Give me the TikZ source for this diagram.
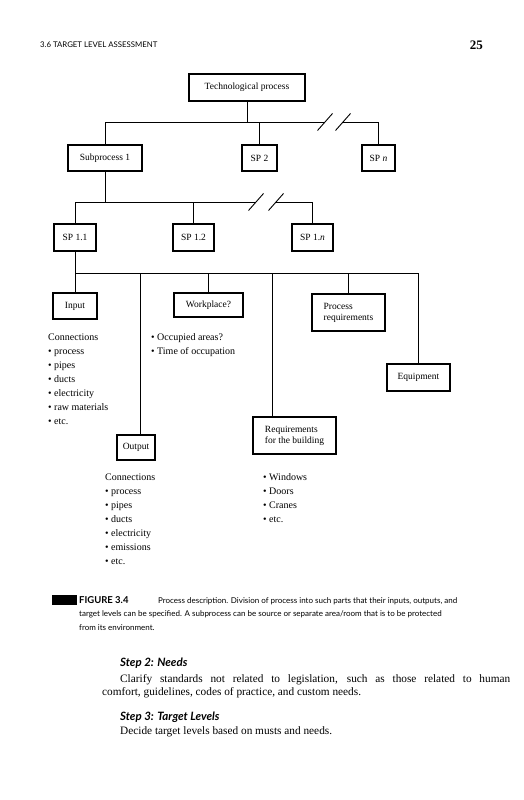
\documentclass[tikz,border=0pt]{standalone}
\usepackage{fontspec}
\setmainfont{Liberation Serif}
\setsansfont{Lato}
\usetikzlibrary{calc}

\begin{document}
\begin{tikzpicture}[
    x=1pt, y=-1pt,
    box/.style 2 args={draw, line width=1.1pt, inner sep=0pt, align=left,
                minimum width=#1pt, minimum height=#2pt,
                font=\fontsize{9.5}{11}\selectfont},
    wire/.style={line width=0.9pt},
    lst/.style={anchor=base west, align=left, inner sep=0pt,
                font=\fontsize{10}{14}\selectfont},
    txt/.style={anchor=base west, inner sep=0pt,
                font=\fontsize{11.3}{13.5}\selectfont},
    hd/.style={anchor=base west, inner sep=0pt,
                font=\sffamily\bfseries\itshape\fontsize{11.5}{13}\selectfont},
    captxt/.style={anchor=base west, inner sep=0pt,
                font=\sffamily\fontsize{8}{9}\selectfont}
  ]
  \useasboundingbox (0,0) rectangle (523,800);

  % Running head
  \node[anchor=base west, inner sep=0pt, font=\sffamily\fontsize{7.8}{9}\selectfont]
    (runhead) at (40,48) {3.6 TARGET LEVEL ASSESSMENT};
  \node[anchor=base east, inner sep=0pt, font=\bfseries\fontsize{13}{15}\selectfont]
    (folio) at (483,49) {25};

  % Process tree
  \node[box={116}{27}] (tp) at (247,87.5) {Technological process};
  \node[box={74}{26}] (sub1) at (105,158) {Subprocess 1};
  \node[box={35}{26}] (sp2) at (259.5,158) {SP 2};
  \node[box={33}{26}] (spn) at (378.5,158) {SP \textit{n}};
  \node[box={42}{27}] (sp11) at (75,237.5) {SP 1.1};
  \node[box={41}{27}] (sp12) at (193.5,237.5) {SP 1.2};
  \node[box={41}{27}] (sp1n) at (312.5,237.5) {SP 1.\textit{n}};

  \node[box={44}{26}] (input) at (75,306) {Input};
  \node[box={69}{24}] (work) at (208.5,305) {Workplace?};
  \node[box={73}{37}] (procreq) at (348.5,312.5) {Process\\requirements};
  \node[box={63}{27}] (equip) at (418.5,377.5) {Equipment};
  \node[box={83}{37}] (reqbld) at (294.5,435.5) {Requirements\\for the building};
  \node[box={38}{25}] (output) at (136,447.5) {Output};

  % Buses with break marks
  \coordinate (bus1) at (0,122);
  \coordinate (cut1a) at (325,122);
  \coordinate (cut1b) at (343,122);
  \coordinate (bus2) at (0,202);
  \coordinate (cut2a) at (256,202);
  \coordinate (cut2b) at (276,202);
  \coordinate (bus3) at (0,273);

  \draw[wire] (tp.south) -- (tp.south |- bus1);
  \draw[wire] (sub1.north) |- (cut1a);
  \draw[wire] (cut1b) -| (spn.north);
  \draw[wire] (sp2.north) -- (sp2.north |- bus1);

  \draw[wire] (sub1.south) -- (sub1.south |- bus2);
  \draw[wire] (sp11.north) |- (cut2a);
  \draw[wire] (cut2b) -| (sp1n.north);
  \draw[wire] (sp12.north) -- (sp12.north |- bus2);

  \foreach \c in {cut1a, cut1b, cut2a, cut2b}
    \draw[wire] ($(\c)+(-7.5,8.5)$) -- ($(\c)+(7.5,-8.5)$);

  \draw[wire] (sp11.south) |- (equip.north |- bus3) -- (equip.north);
  \draw[wire] (input.north) -- (input.north |- bus3);
  \draw[wire] ([xshift=4pt]output.north) -- ([xshift=4pt]output.north |- bus3);
  \draw[wire] (work.north) -- (work.north |- bus3);
  \draw[wire] ([xshift=-22.5pt]reqbld.north) -- ([xshift=-22.5pt]reqbld.north |- bus3);
  \draw[wire] (procreq.north) -- (procreq.north |- bus3);

  % Lists (placed by the baseline of their last line)
  \node[lst] (inlist) at (48,424) {Connections\\\textbullet\ process\\\textbullet\ pipes\\
    \textbullet\ ducts\\\textbullet\ electricity\\\textbullet\ raw materials\\\textbullet\ etc.};
  \node[lst] (worklist) at (151,354) {\textbullet\ Occupied areas?\\\textbullet\ Time of occupation};
  \node[lst] (outlist) at (105,564) {Connections\\\textbullet\ process\\\textbullet\ pipes\\
    \textbullet\ ducts\\\textbullet\ electricity\\\textbullet\ emissions\\\textbullet\ etc.};
  \node[lst] (bldlist) at (263,522) {\textbullet\ Windows\\\textbullet\ Doors\\
    \textbullet\ Cranes\\\textbullet\ etc.};

  % Caption
  \node[fill, inner sep=0pt, minimum width=25pt, minimum height=10pt] (figmark) at (64.5,600) {};
  \node[captxt, font=\sffamily\bfseries\fontsize{9.5}{10}\selectfont] (fignum) at (79,603.5) {FIGURE 3.4};
  \node[captxt] (cap1) at (158,603)
    {Process description. Division of process into such parts that their inputs, outputs, and};
  \node[captxt] (cap2) at (79,616.5)
    {target levels can be specified. A subprocess can be source or separate area/room that is to be protected};
  \node[captxt] (cap3) at (79,630) {from its environment.};

  % Body text
  \node[hd] (step2) at (120,666) {Step 2: Needs};
  \node[txt] (needs1) at (120,682)
    {\makebox[390pt][s]{Clarify standards not related to legislation, such as those related to human}};
  \node[txt] (needs2) at (102,695.5) {comfort, guidelines, codes of practice, and custom needs.};
  \node[hd] (step3) at (120,720) {Step 3: Target Levels};
  \node[txt] (levels) at (120,734) {Decide target levels based on musts and needs.};
\end{tikzpicture}
\end{document}
